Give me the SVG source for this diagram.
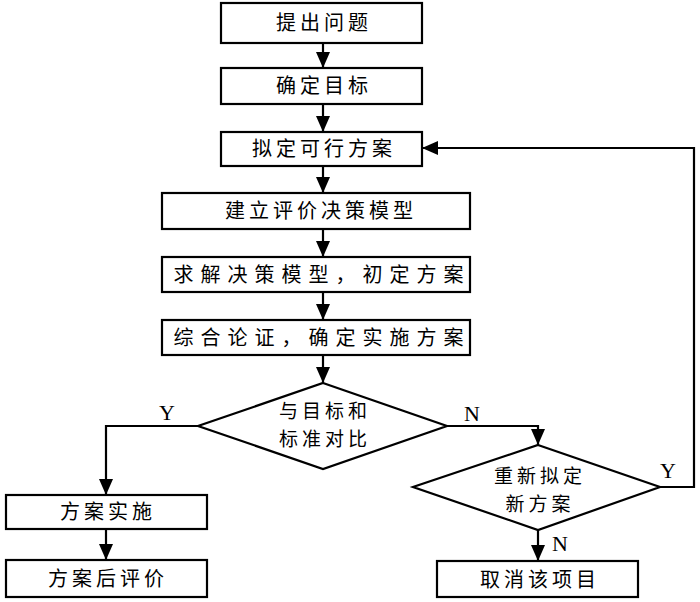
<svg xmlns="http://www.w3.org/2000/svg" width="700" height="602" viewBox="0 0 700 602">
<style>
.b{fill:#fff;stroke:#000;stroke-width:2.2}
.t{font-family:"Noto Sans CJK SC","Noto Sans CJK JP",sans-serif;font-size:20px;fill:#000;text-anchor:middle;letter-spacing:4px}
.w{letter-spacing:7px}
.d{font-size:19px;letter-spacing:4px}
.l{font-family:"Liberation Serif",serif;font-size:22px;fill:#000;text-anchor:middle}
.c{fill:none;stroke:#000;stroke-width:2.2;marker-end:url(#ah)}
</style>
<defs>
<marker id="ah" markerUnits="userSpaceOnUse" markerWidth="16" markerHeight="14" refX="16" refY="7" orient="auto">
<path d="M0,0 L16,7 L0,14 z" fill="#000"/>
</marker>
</defs>
<rect width="700" height="602" fill="#fff"/>
<g id="n1"><rect class="b" x="221" y="3" width="201" height="40"/><text class="t" x="324" y="30">提出问题</text></g>
<g id="n2"><rect class="b" x="221" y="68" width="201" height="36"/><text class="t" x="324" y="93">确定目标</text></g>
<g id="n3"><rect class="b" x="221" y="132" width="201" height="34"/><text class="t" x="324" y="156">拟定可行方案</text></g>
<g id="n4"><rect class="b" x="162" y="193" width="308" height="36"/><text class="t" x="321" y="218">建立评价决策模型</text></g>
<g id="n5"><rect class="b" x="162" y="257" width="308" height="35"/><text class="t w" x="322" y="282">求解决策模型，初定方案</text></g>
<g id="n6"><rect class="b" x="162" y="320" width="308" height="35"/><text class="t w" x="322" y="345">综合论证，确定实施方案</text></g>
<g id="d1"><polygon class="b" points="323,383 447,426 323,469 198,426"/><text class="t d" x="325" y="418">与目标和</text><text class="t d" x="325" y="446">标准对比</text></g>
<g id="n7"><rect class="b" x="6" y="495" width="201" height="34"/><text class="t" x="108" y="519">方案实施</text></g>
<g id="n8"><rect class="b" x="6" y="560" width="201" height="37"/><text class="t" x="108" y="586">方案后评价</text></g>
<g id="d2"><polygon class="b" points="538,445 660,487 538,530 413,487"/><text class="t d" x="540" y="483">重新拟定</text><text class="t d" x="540" y="511">新方案</text></g>
<g id="n9"><rect class="b" x="437" y="561" width="201" height="36"/><text class="t" x="540" y="587">取消该项目</text></g>
<g id="connectors">
<line class="c" x1="323" y1="43" x2="323" y2="68"/>
<line class="c" x1="323" y1="104" x2="323" y2="132"/>
<line class="c" x1="323" y1="166" x2="323" y2="193"/>
<line class="c" x1="323" y1="229" x2="323" y2="257"/>
<line class="c" x1="323" y1="292" x2="323" y2="320"/>
<line class="c" x1="323" y1="355" x2="323" y2="383"/>
<polyline class="c" points="198,426 106,426 106,495"/>
<line class="c" x1="106" y1="529" x2="106" y2="560"/>
<polyline class="c" points="447,426 538,426 538,445"/>
<line class="c" x1="538" y1="530" x2="538" y2="561"/>
<polyline class="c" points="660,487 694,487 694,148 422,148"/>
<text class="l" x="167" y="420">Y</text>
<text class="l" x="472" y="421">N</text>
<text class="l" x="668" y="478">Y</text>
<text class="l" x="560" y="551">N</text>
</g>
</svg>
